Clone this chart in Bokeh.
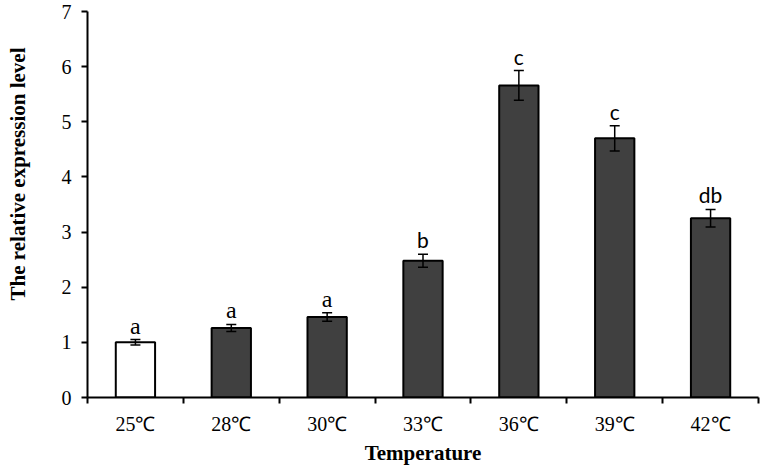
from bokeh.plotting import figure
from bokeh.models import (Range1d, FixedTicker, Title, Whisker, ColumnDataSource, TeeHead,
                          LabelSet, LinearAxis)
from bokeh.embed import file_html
from bokeh.resources import INLINE

categories = ["25℃", "28℃", "30℃", "33℃", "36℃", "39℃", "42℃"]
values = [1.00, 1.26, 1.46, 2.48, 5.66, 4.70, 3.25]
errors = [0.05, 0.065, 0.075, 0.12, 0.27, 0.23, 0.16]
letters = ["a", "a", "a", "b", "c", "c", "db"]
y_ticks = [0, 1, 2, 3, 4, 5, 6, 7]

n = len(categories)
xs = [i + 0.5 for i in range(n)]
fills = ["#ffffff"] + ["#404040"] * (n - 1)
fonts = ["Liberation Serif" if l == "a" else "Lato" for l in letters]
sizes = ["24px" if l == "a" else "21px" for l in letters]

src = ColumnDataSource(dict(
    x=xs, top=values,
    upper=[v + e for v, e in zip(values, errors)],
    lower=[v - e for v, e in zip(values, errors)],
    fill=fills, letter=letters, font=fonts, size=sizes,
))

p = figure(width=764, height=470, x_range=Range1d(0, n), y_range=Range1d(0, 7),
           output_backend="svg", toolbar_location=None,
           min_border_left=86, min_border_right=6, min_border_top=11, min_border_bottom=73)
p.outline_line_color = None
p.xgrid.visible = False
p.ygrid.visible = False
p.background_fill_color = "white"

p.vbar(x="x", top="top", bottom=0, width=0.41, fill_color="fill",
       line_color="black", line_width=2, source=src)

w = Whisker(base="x", upper="upper", lower="lower", source=src, level="overlay",
            line_color="black", line_width=1.5,
            upper_head=TeeHead(size=10, line_color="black", line_width=1.5),
            lower_head=TeeHead(size=10, line_color="black", line_width=1.5))
p.add_layout(w)

labels = LabelSet(x="x", y="upper", text="letter", text_font="font", text_font_size="size",
                  text_align="center", text_baseline="alphabetic", y_offset=6,
                  text_color="black", source=src, level="overlay")
p.add_layout(labels)

# y axis
ya = p.yaxis[0]
ya.ticker = FixedTicker(ticks=y_ticks)
ya.major_label_text_font = "Liberation Serif"
ya.major_label_text_font_size = "20px"
ya.major_label_text_color = "black"
ya.major_tick_out = 6
ya.major_tick_in = 0
ya.minor_tick_out = 0
ya.minor_tick_in = 0
ya.axis_line_width = 2
ya.axis_line_color = "black"
ya.major_tick_line_width = 2
ya.major_tick_line_color = "black"
ya.major_label_standoff = 10

# x axis
xa = p.xaxis[0]
xa.ticker = FixedTicker(ticks=xs, minor_ticks=list(range(0, n + 1)))
xa.major_label_overrides = {x: c for x, c in zip(xs, categories)}
xa.major_label_text_font = "Liberation Serif"
xa.major_label_text_font_size = "20px"
xa.major_label_text_color = "black"
xa.major_tick_out = 0
xa.major_tick_in = 0
xa.minor_tick_out = 6
xa.minor_tick_in = 0
xa.minor_tick_line_width = 2
xa.minor_tick_line_color = "black"
xa.axis_line_width = 2
xa.axis_line_color = "black"
xa.major_label_standoff = 9
xa.axis_label = "Temperature"
xa.axis_label_text_font = "Liberation Serif"
xa.axis_label_text_font_style = "bold"
xa.axis_label_text_font_size = "21px"
xa.axis_label_text_color = "black"
xa.axis_label_standoff = 3

# blank spacer axis (white tick on white, empty label) that pushes the y title outward
spacer = LinearAxis(ticker=FixedTicker(ticks=[3.5], minor_ticks=[]), major_tick_out=26,
                    major_tick_in=0, minor_tick_out=0, minor_tick_in=0,
                    axis_line_color=None, major_tick_line_color="white",
                    major_label_standoff=0, major_label_overrides={3.5: ""})
p.add_layout(spacer, "left")

ylab = Title(text="The relative expression level", align="right", offset=36, standoff=6,
             text_font="Liberation Serif", text_font_style="bold",
             text_font_size="21px", text_color="black")
p.add_layout(ylab, "left")

open("out.html", "w").write(file_html(p, INLINE))
